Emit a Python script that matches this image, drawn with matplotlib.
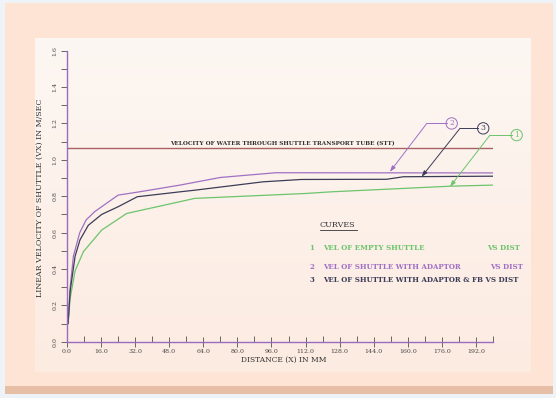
import numpy as np
import matplotlib; matplotlib.use("Agg"); import matplotlib.pyplot as plt
from matplotlib.patches import Rectangle
from matplotlib.lines import Line2D

# curve 1: empty shuttle, curve 2: with adaptor, curve 3: with adaptor & FB
x_empty = [0.5, 1.5, 3.8, 7.7, 16.3, 28, 60, 112, 124, 180, 200]
v_empty = [0.10, 0.24, 0.39, 0.495, 0.614, 0.705, 0.788, 0.815, 0.824, 0.855, 0.861]
x_adapt = [0.5, 1.5, 3, 6, 9, 13, 24, 34, 53, 72, 98, 200]
v_adapt = [0.10, 0.30, 0.47, 0.60, 0.67, 0.715, 0.806, 0.824, 0.861, 0.903, 0.929, 0.928]
x_fb = [0.5, 1.5, 3.8, 6.1, 10, 16.3, 24, 33, 53, 60, 92, 110, 150, 158, 200]
v_fb = [0.10, 0.28, 0.47, 0.56, 0.64, 0.70, 0.742, 0.797, 0.824, 0.833, 0.879, 0.892, 0.893, 0.907, 0.91]
v_water = 1.063

xticks = np.arange(0, 193, 16)
yticks = np.arange(0, 1.61, 0.2)

GREEN = "#6cc46c"; PURPLE = "#a070c4"; DARK = "#3c3c58"; WATER = "#a86262"
AXC = "#9b6bbf"; TXT = "#444444"
FONT = "DejaVu Serif"

W, H = 556, 398
fig = plt.figure(figsize=(W/100, H/100), dpi=100)
fig.patch.set_facecolor("#eef3f8")

def px(x0, y0, x1, y1):
    # pixel box -> figure coords
    return (x0/W, 1-y1/H, (x1-x0)/W, (y1-y0)/H)

l, b, w, h = px(5, 3, 553, 394)
fig.add_artist(Rectangle((l, b), w, h, transform=fig.transFigure, fc="#e6bfa6", ec="none", zorder=-5))
l, b, w, h = px(5, 3, 553, 386)
fig.add_artist(Rectangle((l, b), w, h, transform=fig.transFigure, fc="#fde4d4", ec="none", zorder=-4))
# soft lighter inner panel
bg = fig.add_axes(px(35, 38, 531, 372), zorder=-3)
grad = np.linspace(0, 1, 100)[:, None]
top = np.array([253, 247, 243]) / 255; bot = np.array([252, 235, 225]) / 255
img = top[None, None, :] * (1 - grad[..., None]) + bot[None, None, :] * grad[..., None]
bg.imshow(np.repeat(img, 2, axis=1), aspect="auto", extent=[0, 1, 0, 1])
bg.axis("off")

ax = fig.add_axes(px(67, 50.7, 493, 341.7))
ax.set_facecolor("none")
ax.set_xlim(0, 200); ax.set_ylim(0, 1.6)
for s in ("top", "right"): ax.spines[s].set_visible(False)
for s in ("left", "bottom"):
    ax.spines[s].set_color(AXC); ax.spines[s].set_linewidth(1.0)

ax.plot([0, 200], [v_water, v_water], color=WATER, lw=1.0)
ax.plot(x_empty, v_empty, color=GREEN, lw=0.9)
ax.plot(x_adapt, v_adapt, color=PURPLE, lw=0.9)
ax.plot(x_fb, v_fb, color=DARK, lw=0.9)

ax.set_xticks(xticks)
ax.set_xticks(np.arange(8, 201, 16), minor=True)
ax.set_xticklabels([f"{t:.1f}" for t in xticks], fontsize=4.5, family=FONT, color=TXT)
ax.set_yticks(yticks)
ax.set_yticks(np.arange(0.1, 1.6, 0.2), minor=True)
ax.set_yticklabels([f"{t:.1f}" for t in yticks], fontsize=4.5, family=FONT, color=TXT,
                   rotation=90, va="center")
ax.tick_params(axis="x", which="major", direction="inout", length=7, width=0.7, color="#666", pad=2)
ax.tick_params(axis="x", which="minor", direction="in", length=4, width=0.7, color="#666")
ax.tick_params(axis="y", which="both", direction="out", length=4, width=0.7, color="#666", pad=3)

ax.text(48.4, 1.090, "VELOCITY OF WATER THROUGH SHUTTLE TRANSPORT TUBE (STT)",
        fontsize=4.15, family=FONT, fontweight="bold", color="#333", va="center", ha="left")

# callouts: (label, colour, tip, elbow, circle centre)
callouts = [("2", PURPLE, (151.6, 0.934), (168.9, 1.200), (180.6, 1.200)),
            ("3", DARK, (166.5, 0.907), (184.5, 1.173), (195.4, 1.173)),
            ("1", GREEN, (179.8, 0.852), (198.6, 1.136), (211.1, 1.136))]
for lab, c, tip, elb, cen in callouts:
    ax.annotate("", xy=tip, xytext=elb, annotation_clip=False,
                arrowprops=dict(arrowstyle="-|>,head_length=0.35,head_width=0.12", color=c, lw=0.7,
                                shrinkA=0, shrinkB=0))
    ax.plot([elb[0], cen[0] - 2.4], [elb[1], cen[1]], color=c, lw=0.7, clip_on=False)
    ax.text(cen[0], cen[1], lab, fontsize=5.5, family=FONT, color=c, ha="center", va="center",
            clip_on=False, bbox=dict(boxstyle="circle,pad=0.22", fc="none", ec=c, lw=0.7))

fig.text(40/W, 1-197.5/H, "LINEAR VELOCITY OF SHUTTLE (VX) IN M/SEC", rotation=90,
         fontsize=5.7, family=FONT, color="#333", ha="center", va="center")
fig.text(284/W, 1-360/H, "DISTANCE (X) IN MM", fontsize=5.4, family=FONT, color="#333",
         ha="center", va="center")

# legend block
fig.text(320/W, 1-225/H, "CURVES", fontsize=5.8, family=FONT, color="#333", ha="left", va="center")
fig.add_artist(Line2D([320/W, 357/W], [1-229.8/H, 1-229.8/H], transform=fig.transFigure, color="#333", lw=0.6))
rows = [("1", "VEL OF EMPTY SHUTTLE", GREEN, 248.3, 486.7),
        ("2", "VEL OF SHUTTLE WITH ADAPTOR", PURPLE, 266.7, 490),
        ("3", "VEL OF SHUTTLE WITH ADAPTOR & FB VS DIST", DARK, 280, None)]
for num, txt, c, y, xvs in rows:
    fig.text(309.3/W, 1-y/H, num, fontsize=5.0, family=FONT, fontweight="bold", color=c, va="center")
    fig.text(323.3/W, 1-y/H, txt, fontsize=5.0, family=FONT, fontweight="bold", color=c, va="center")
    if xvs:
        fig.text(xvs/W, 1-y/H, "VS DIST", fontsize=5.0, family=FONT, fontweight="bold", color=c, va="center")

fig.savefig("out.png", dpi=100, facecolor=fig.get_facecolor())
